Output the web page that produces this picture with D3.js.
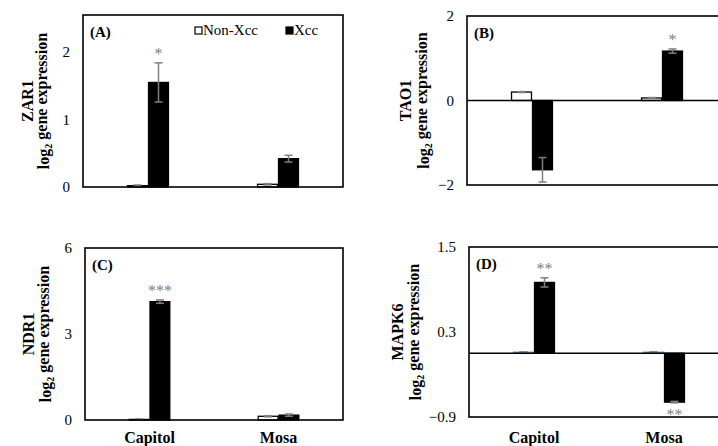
<!DOCTYPE html>
<html>
<head>
<meta charset="utf-8">
<script src="https://cdn.jsdelivr.net/npm/d3@7"></script>
<style>
body { margin: 0; background: #fff; }
svg text { font-family: 'Liberation Serif', Tinos, 'Times New Roman', 'DejaVu Serif', serif !important; }
</style>
</head>
<body>
<svg id="chart" width="718" height="446" style="font-family: 'Liberation Serif', serif"></svg>
<script>
var cultivars = ["Capitol", "Mosa"];
var treatments = ["Non-Xcc", "Xcc"];
var genes = ["ZAR1", "TAO1", "NDR1", "MAPK6"];
var panelTags = ["(A)", "(B)", "(C)", "(D)"];

// log2 expression per cultivar: [Non-Xcc, Xcc]
var zar1Values = [[0.02, 1.55], [0.04, 0.42]];
var zar1Errors = [[0.01, 0.29], [0.01, 0.05]];
var tao1Values = [[0.20, -1.64], [0.06, 1.17]];
var tao1Errors = [[0.01, 0.29], [0.01, 0.05]];
var ndr1Values = [[0.02, 4.13], [0.13, 0.17]];
var ndr1Errors = [[0.01, 0.06], [0.02, 0.04]];
var mapk6Values = [[0.015, 1.00], [0.015, -0.69]];
var mapk6Errors = [[0.005, 0.065], [0.005, 0.01]];

var yDomains = [[0, 2.55], [-2, 2], [0, 6], [-0.9, 1.5]];
var yTicks = [[0, 1, 2], [-2, 0, 2], [0, 3, 6], [-0.9, 0.3, 1.5]];

// significance marks on the Xcc bar: [cultivar, label]
var zar1Stars = [["Capitol", "*"]];
var tao1Stars = [["Mosa", "*"]];
var ndr1Stars = [["Capitol", "***"]];
var mapk6Stars = [["Capitol", "**"], ["Mosa", "**"]];

var allValues = [zar1Values, tao1Values, ndr1Values, mapk6Values];
var allErrors = [zar1Errors, tao1Errors, ndr1Errors, mapk6Errors];
var allStars = [zar1Stars, tao1Stars, ndr1Stars, mapk6Stars];

var serif = "'Liberation Serif', Tinos, 'Times New Roman', serif";

// panel boxes
var panels = [
    {left: 83, top: 15, width: 260, height: 172, titleOff: [56, 40]},
    {left: 467, top: 16, width: 260, height: 169, titleOff: [62, 44]},
    {left: 85, top: 248, width: 258, height: 172, titleOff: [57, 40]},
    {left: 469, top: 247, width: 260, height: 170, titleOff: [72, 54]}
];

var svg = d3.select("#chart");
svg.append("rect").attr("width", 718).attr("height", 446).attr("fill", "#fff");

var errColor = "#7f7f7f";

panels.forEach(function(p, i) {

    var g = svg.append("g")
        .attr("font-family", serif)
        .attr("transform", "translate(" + p.left + "," + p.top + ")");

    var x0 = d3.scaleBand()
        .domain(cultivars)
        .range([0, p.width])
        .paddingInner(0.685)
        .paddingOuter(0.3425);

    var x1 = d3.scaleBand()
        .domain(treatments)
        .range([0, x0.bandwidth()])
        .paddingInner(0.05);

    var y = d3.scaleLinear()
        .domain(yDomains[i])
        .range([p.height, 0]);

    var rows = [];
    cultivars.forEach(function(c, ci) {
        treatments.forEach(function(t, ti) {
            rows.push({cultivar: c, treatment: t,
                value: allValues[i][ci][ti], err: allErrors[i][ci][ti]});
        });
    });

    // tick labels
    var yAxis = d3.axisLeft(y)
        .tickValues(yTicks[i])
        .tickSize(0)
        .tickPadding(13)
        .tickFormat(d3.format(yDomains[i][0] % 1 != 0 ? ".1f" : "d"));

    var ax = g.append("g").call(yAxis);
    ax.attr("font-family", serif).attr("font-size", 15);
    ax.select(".domain").remove();
    ax.selectAll("text")
        .style("font-size", "15px")
        .style("font-family", serif)
        .attr("fill", "#000");

    // bars
    var nonXccStroke = i == 3 ? "#4f9bd9" : "#000";
    g.selectAll(".bar")
        .data(rows)
        .enter().append("rect")
        .attr("class", "bar")
        .attr("x", function(d) { return x0(d.cultivar) + x1(d.treatment); })
        .attr("y", function(d) { return y(Math.max(0, d.value)); })
        .attr("width", x1.bandwidth())
        .attr("height", function(d) { return Math.abs(y(d.value) - y(0)); })
        .attr("fill", function(d) { return d.treatment == "Xcc" ? "#000" : "#fff"; })
        .attr("stroke", function(d) { return d.treatment == "Xcc" ? "#000" : nonXccStroke; })
        .attr("stroke-width", 1.3);

    // error bars
    var eb = g.selectAll(".err")
        .data(rows)
        .enter().append("g")
        .attr("class", "err")
        .attr("transform", function(d) {
            return "translate(" + (x0(d.cultivar) + x1(d.treatment) + x1.bandwidth() / 2) + ",0)";
        })
        .attr("stroke", errColor)
        .attr("stroke-width", 1.5);

    eb.append("line")
        .attr("y1", function(d) { return y(d.value - d.err); })
        .attr("y2", function(d) { return y(d.value + d.err); });
    eb.append("line")
        .attr("x1", -4).attr("x2", 4)
        .attr("y1", function(d) { return y(d.value + d.err); })
        .attr("y2", function(d) { return y(d.value + d.err); });
    eb.append("line")
        .attr("x1", -4).attr("x2", 4)
        .attr("y1", function(d) { return y(d.value - d.err); })
        .attr("y2", function(d) { return y(d.value - d.err); });

    // zero line and frame
    if (yDomains[i][0] < 0) {
        g.append("line")
            .attr("x1", 0).attr("x2", p.width)
            .attr("y1", y(0)).attr("y2", y(0))
            .attr("stroke", "#000").attr("stroke-width", 1.5);
    }
    g.append("rect")
        .attr("width", p.width).attr("height", p.height)
        .attr("fill", "none").attr("stroke", "#000").attr("stroke-width", 1.6);

    // stars
    allStars[i].forEach(function(s) {
        var ci = cultivars.indexOf(s[0]);
        var v = allValues[i][ci][1], e = allErrors[i][ci][1];
        var cx = x0(s[0]) + x1("Xcc") + x1.bandwidth() / 2;
        var yy = v >= 0 ? y(v + e) - 4 : y(v - e) + 17;
        g.append("text")
            .attr("x", cx).attr("y", yy)
            .attr("text-anchor", "middle")
            .attr("fill", errColor)
            .style("font-size", "16px")
            .text(s[1]);
    });

    // panel tag
    g.append("text")
        .attr("x", 7).attr("y", 22)
        .style("font-size", "15px").style("font-weight", "bold")
        .text(panelTags[i]);

    // y title
    var cy = p.height / 2;
    g.append("text")
        .attr("transform", "translate(" + (-p.titleOff[0]) + "," + cy + ") rotate(-90)")
        .attr("text-anchor", "middle").attr("dy", "0.35em")
        .style("font-size", "16px").style("font-weight", "bold")
        .text(genes[i]);
    var t2 = g.append("text")
        .attr("transform", "translate(" + (-p.titleOff[1]) + "," + cy + ") rotate(-90)")
        .attr("text-anchor", "middle").attr("dy", "0.35em")
        .style("font-size", "16px").style("font-weight", "bold");
    t2.append("tspan").text("log");
    t2.append("tspan").attr("dy", "0.3em").style("font-size", "10px").text("2");
    t2.append("tspan").attr("dy", "-0.3em").text(" gene expression");

    // cultivar labels on bottom row
    if (i >= 2) {
        g.selectAll(".xl")
            .data(cultivars)
            .enter().append("text")
            .attr("x", function(d) { return x0(d) + x0.bandwidth() / 2; })
            .attr("y", 443 - p.top)
            .attr("text-anchor", "middle")
            .style("font-size", "16px").style("font-weight", "bold")
            .text(function(d) { return d; });
    }

    // legend in panel A
    if (i == 0) {
        var lg = g.append("g").attr("transform", "translate(112,12)");
        treatments.forEach(function(t, ti) {
            var lx = ti == 0 ? 0 : 91;
            lg.append("rect")
                .attr("x", lx).attr("y", 0).attr("width", 7).attr("height", 7)
                .attr("fill", ti == 0 ? "#fff" : "#000")
                .attr("stroke", "#000").attr("stroke-width", 1.2);
            lg.append("text")
                .attr("x", lx + 8).attr("y", 8)
                .style("font-size", "15px")
                .text(t);
        });
    }
});
</script>
</body>
</html>
